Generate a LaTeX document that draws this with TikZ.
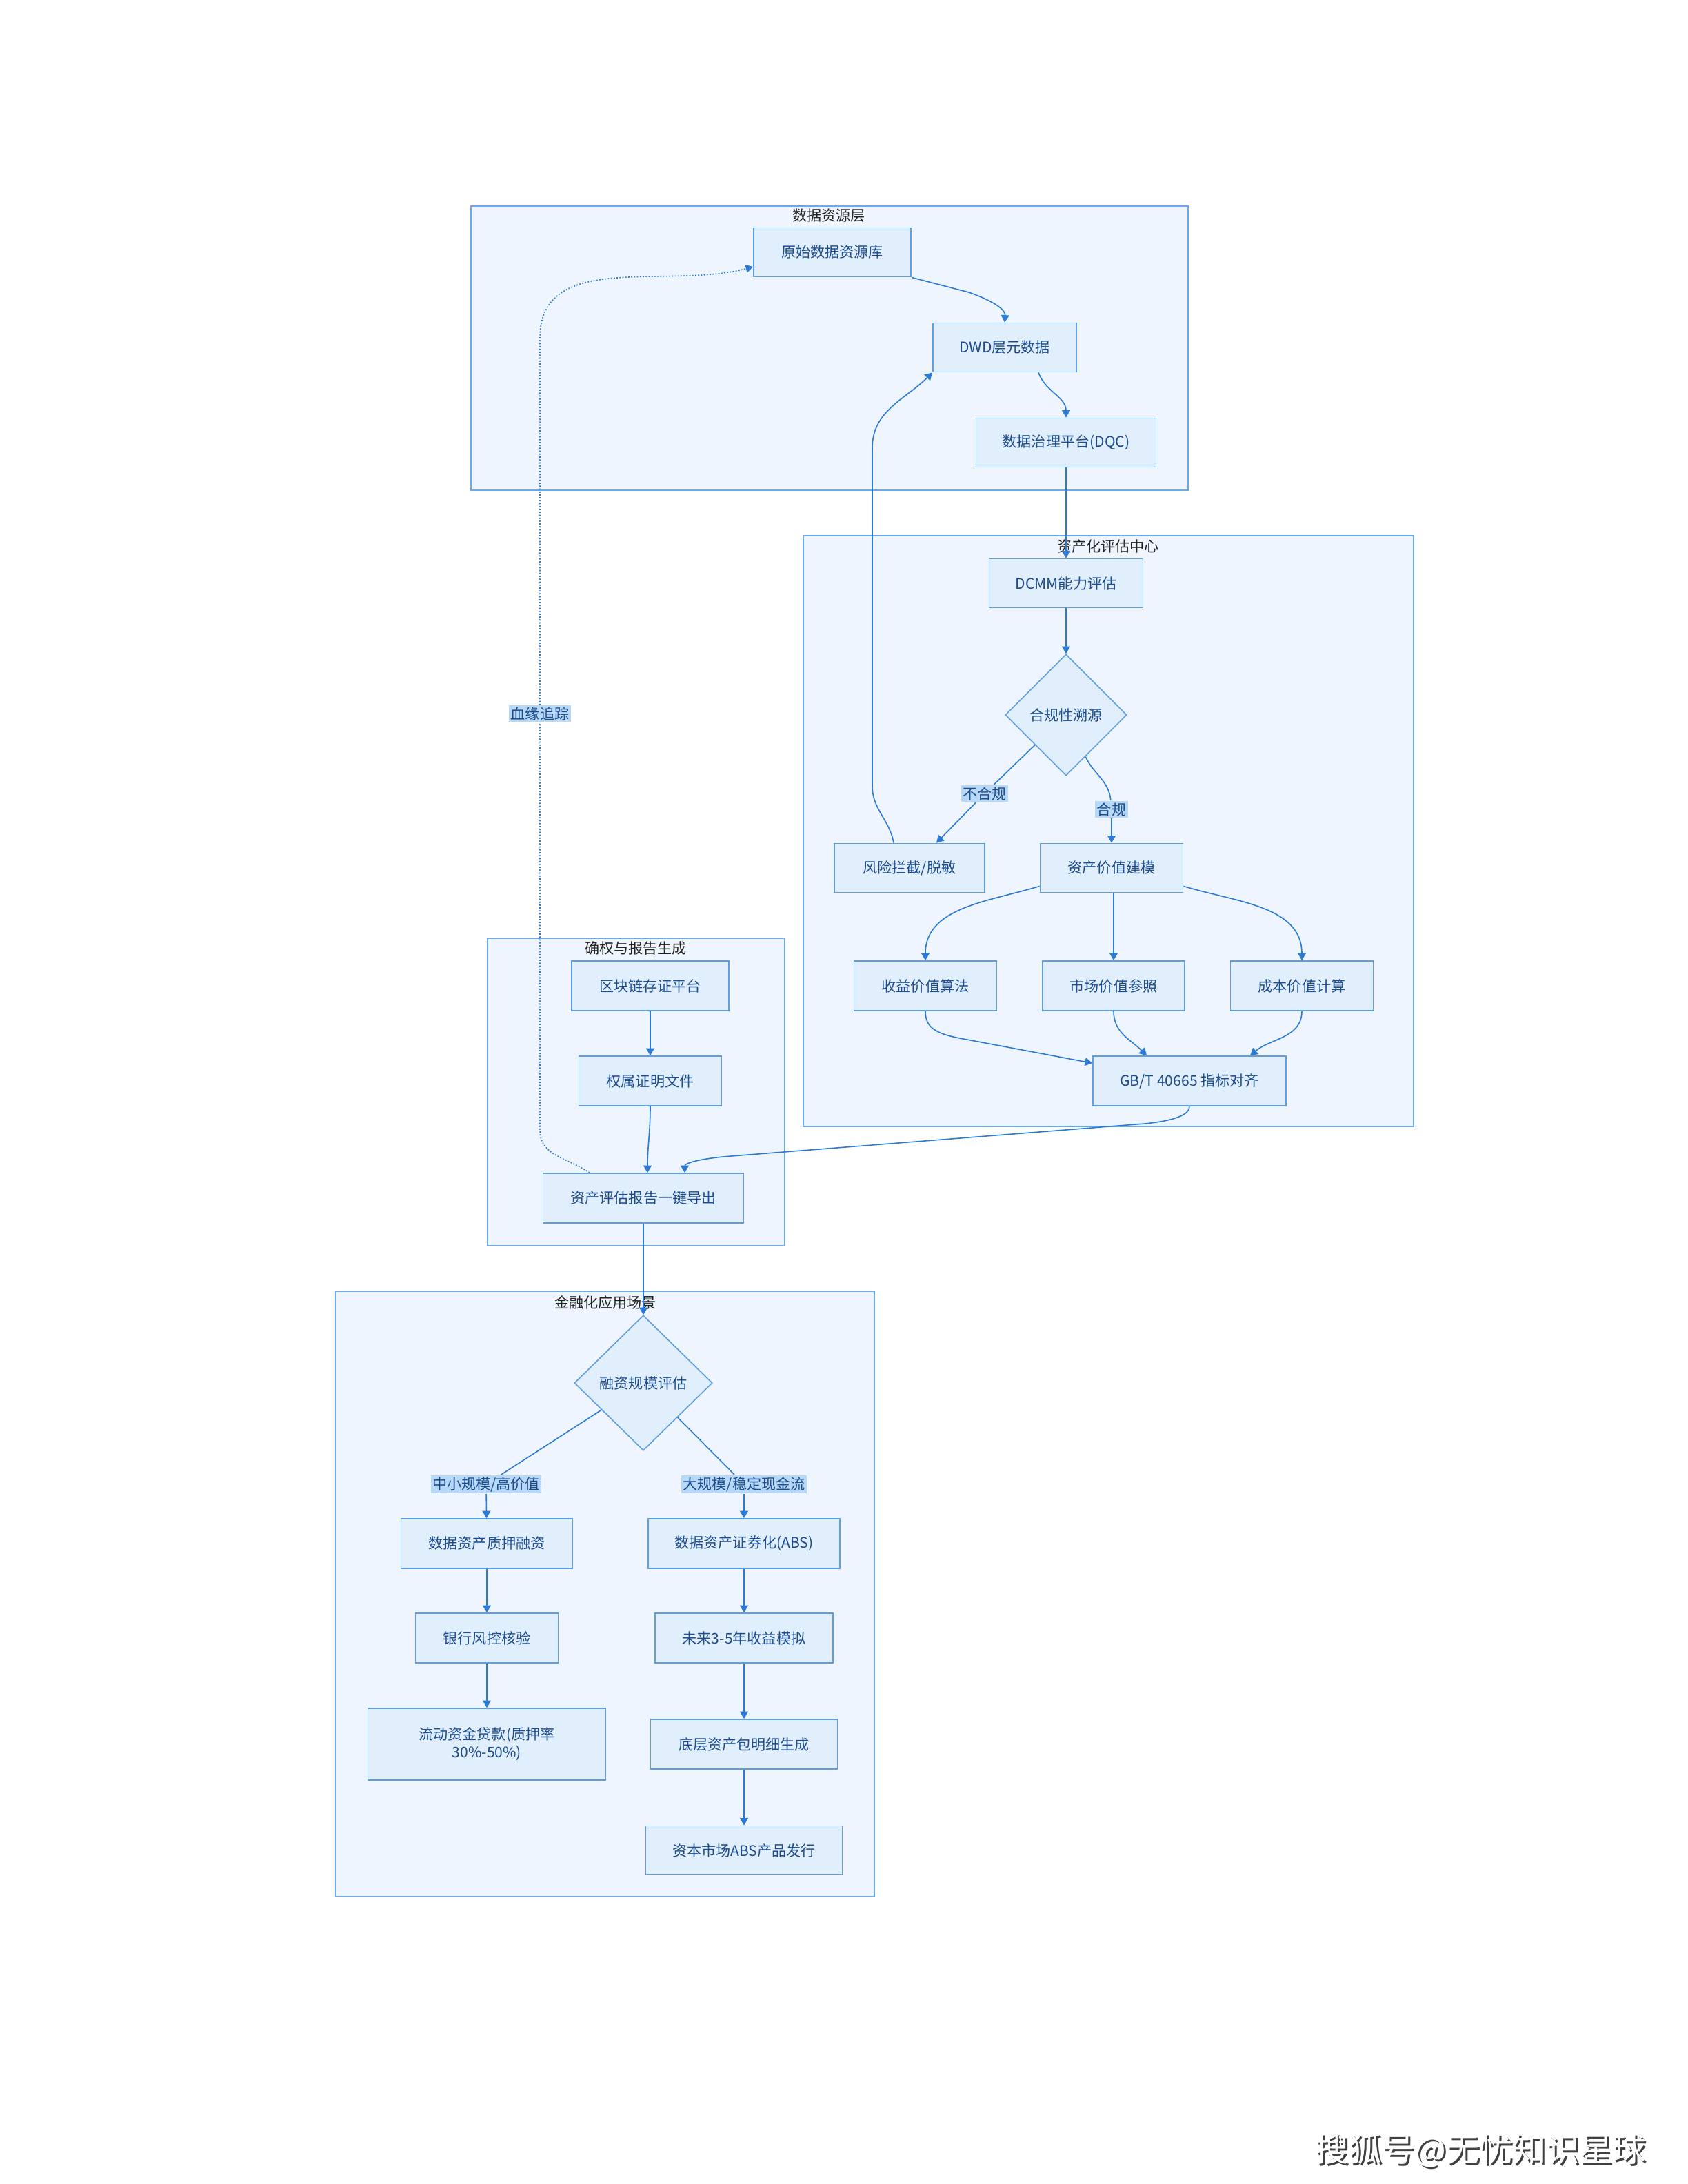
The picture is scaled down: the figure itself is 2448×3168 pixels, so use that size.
\documentclass[tikz,border=0pt]{standalone}
\usepackage{fontspec}
\setmainfont{Noto Sans CJK SC}
\usetikzlibrary{arrows.meta,shapes.geometric,calc}
\definecolor{clfill}{HTML}{EEF5FE}
\definecolor{clborder}{HTML}{6FA8EA}
\definecolor{boxfill}{HTML}{E1EEFB}
\definecolor{boxborder}{HTML}{5E9FE3}
\definecolor{boxtext}{HTML}{1C4C8E}
\definecolor{edgecol}{HTML}{2A7AD6}
\definecolor{labelbg}{HTML}{B7D9F7}
\definecolor{titlecol}{HTML}{222222}
\begin{document}
\begin{tikzpicture}[x=0.01cm,y=0.01cm,
  font=\fontsize{6}{7.4}\selectfont,
  cluster/.style={draw=clborder, fill=clfill, line width=0.55pt, inner sep=0},
  ctitle/.style={text=titlecol, inner sep=0},
  box/.style={draw=boxborder, fill=boxfill, line width=0.5pt, text=boxtext, inner sep=1pt, minimum height=0.71cm},
  dia/.style={diamond, draw=boxborder, fill=boxfill, line width=0.45pt, text=boxtext, inner sep=0, aspect=1},
  line/.style={draw=edgecol, line width=0.45pt},
  arr/.style={line, -{Triangle[length=3pt,width=3.4pt]}},
  dotarr/.style={arr, dash pattern=on 0.5pt off 0.7pt},
  elabel/.style={fill=labelbg, text=boxtext, inner sep=0.7pt},
]
\useasboundingbox (0,0) rectangle (2448,-3168);
\fill[white] (0,0) rectangle (2448,-3168);

% clusters
\node[cluster, minimum width=10.40cm, minimum height=4.12cm] (c1) at (1203,-505) {};
\node[ctitle] (t1) at (1202,-313) {数据资源层};
\node[cluster, minimum width=8.85cm, minimum height=8.57cm] (c2) at (1607.5,-1205.5) {};
\node[ctitle] (t2) at (1607,-793) {资产化评估中心};
\node[cluster, minimum width=4.31cm, minimum height=4.46cm] (c3) at (922.5,-1584) {};
\node[ctitle] (t3) at (922,-1376) {确权与报告生成};
\node[cluster, minimum width=7.81cm, minimum height=8.78cm] (c4) at (877.5,-2312) {};
\node[ctitle] (t4) at (878,-1889) {金融化应用场景};

% nodes: data layer
\node[box, minimum width=2.28cm] (ys) at (1207,-366) {原始数据资源库};
\node[box, minimum width=2.08cm] (dwd) at (1457,-504) {DWD层元数据};
\node[box, minimum width=2.61cm] (dqc) at (1546,-642) {数据治理平台(DQC)};

% evaluation center
\node[box, minimum width=2.23cm] (dcmm) at (1546,-846) {DCMM能力评估};
\node[dia, minimum width=1.76cm, minimum height=1.76cm] (hg) at (1546,-1037) {合规性溯源};
\node[box, minimum width=2.18cm] (fx) at (1319,-1259) {风险拦截/脱敏};
\node[box, minimum width=2.07cm] (jz) at (1612,-1259) {资产价值建模};
\node[box, minimum width=2.07cm, minimum height=0.72cm] (sy) at (1342,-1430) {收益价值算法};
\node[box, minimum width=2.06cm, minimum height=0.72cm] (sc) at (1615,-1430) {市场价值参照};
\node[box, minimum width=2.07cm, minimum height=0.72cm] (cb) at (1888,-1430) {成本价值计算};
\node[box, minimum width=2.80cm, minimum height=0.72cm] (gb) at (1725,-1568) {GB/T 40665 指标对齐};

% rights & report
\node[box, minimum width=2.28cm, minimum height=0.72cm] (qkl) at (943,-1430) {区块链存证平台};
\node[box, minimum width=2.07cm, minimum height=0.72cm] (qs) at (943,-1568) {权属证明文件};
\node[box, minimum width=2.91cm, minimum height=0.72cm] (rep) at (933,-1738) {资产评估报告一键导出};

% finance scenes
\node[dia, minimum width=2.00cm, minimum height=1.96cm] (rz) at (933,-2006) {融资规模评估};
\node[box, minimum width=2.49cm, minimum height=0.72cm] (zy) at (706,-2239) {数据资产质押融资};
\node[box, minimum width=2.78cm, minimum height=0.72cm] (abs) at (1079,-2239) {数据资产证券化(ABS)};
\node[box, minimum width=2.07cm, minimum height=0.72cm] (yh) at (706,-2376) {银行风控核验};
\node[box, minimum width=2.58cm, minimum height=0.72cm] (wl) at (1079,-2376) {未来3-5年收益模拟};
\node[box, minimum width=3.45cm, minimum height=1.04cm, align=center] (ld) at (706,-2530) {流动资金贷款(质押率\\30\%-50\%)};
\node[box, minimum width=2.71cm, minimum height=0.72cm] (dc) at (1079,-2530) {底层资产包明细生成};
\node[box, minimum width=2.85cm, minimum height=0.71cm] (zb) at (1079,-2684) {资本市场ABS产品发行};

% edge labels used as waypoints
\node[elabel] (lbhg) at (1428,-1151) {不合规};
\node[elabel] (lhg) at (1612,-1174) {合规};
\node[elabel] (lzx) at (705,-2153) {中小规模/高价值};
\node[elabel] (ldg) at (1079,-2153) {大规模/稳定现金流};

% edges: data layer
\coordinate (ysa) at (1405,-424);
\draw[arr] (ys.south east) -- (ysa) .. controls (1450,-440) and (1458,-452) .. (dwd.north);
\draw[arr] ($(dwd.south)+(49,0)$) to[out=-70,in=90] (dqc.north);
\draw[arr] (dqc) -- (dcmm);
\draw[arr] (dcmm) -- (hg);
\draw[line] (hg) -- (lbhg);
\draw[arr] (lbhg) -- ($(fx.north)+(39,0)$);
\draw[line] (hg) to[out=-65,in=95] (lhg);
\draw[arr] (lhg) -- (jz);
\coordinate (fxa) at (1265,-1140);
\coordinate (fxb) at (1265,-650);
\draw[arr] ($(fx.north)+(-23,0)$) to[out=100,in=-90] (fxa) -- (fxb) to[out=90,in=225] (dwd.south west);
\draw[arr] ($(jz.south west)+(0,10)$) to[out=197,in=90] (sy.north);
\draw[arr] (jz.south -| sc.north) -- (sc.north);
\draw[arr] ($(jz.south east)+(0,10)$) to[out=-17,in=90] (cb.north);
\coordinate (sya) at (1392,-1506);
\draw[arr] (sy.south) .. controls (1342,-1490) and (1356,-1499) .. (sya) -- ($(gb.north west)+(0,-11)$);
\draw[arr] (sc.south) to[out=-90,in=135] ($(gb.north)+(-62,0)$);
\draw[arr] (cb.south) to[out=-90,in=40] ($(gb.north)+(88,0)$);
\coordinate (gba) at (1660,-1630);
\coordinate (gbb) at (1060,-1677);
\draw[arr] (gb.south) .. controls (1725,-1618) and (1700,-1626) .. (gba) -- (gbb) .. controls (1010,-1681) and (993,-1688) .. ($(rep.north)+(60,0)$);

% rights & report edges
\draw[arr] (qkl) -- (qs);
\draw[arr] (qs.south) to[out=-90,in=90] ($(rep.north)+(6,0)$);
\coordinate (xya) at (783,-1640);
\coordinate (xyb) at (783,-490);
\draw[dotarr] ($(rep.north)+(-78,0)$) to[out=145,in=-90] (xya) -- (xyb) to[out=90,in=195] ($(ys.west)+(0,-21)$);
\node[elabel] (lxy) at (783,-1035) {血缘追踪};
\draw[arr] (rep) -- (rz);

% finance edges
\draw[line] (rz) -- (lzx);
\draw[arr] (lzx) -- (zy);
\draw[line] (rz) -- (ldg);
\draw[arr] (ldg) -- (abs);
\draw[arr] (zy) -- (yh);
\draw[arr] (yh) -- (ld);
\draw[arr] (abs) -- (wl);
\draw[arr] (wl) -- (dc);
\draw[arr] (dc) -- (zb);

% footer
\node[text=black!75, font=\fontsize{13.7}{16}\selectfont] (footshadow) at (2150,-3122) {搜狐号@无忧知识星球};
\node[text=white, font=\fontsize{13.7}{16}\selectfont] (footer) at (2147,-3119) {搜狐号@无忧知识星球};
\end{tikzpicture}
\end{document}
